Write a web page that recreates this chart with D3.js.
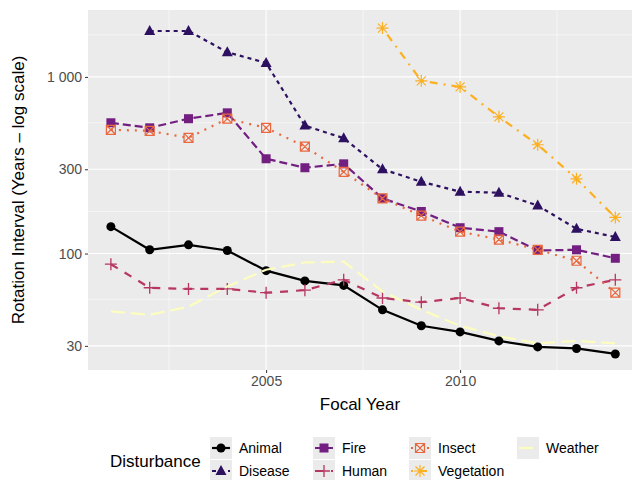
<!DOCTYPE html>
<html><head><meta charset="utf-8">
<script src="https://cdn.jsdelivr.net/npm/d3@7"></script>
<style>body{margin:0;background:#fff;font-family:"Liberation Sans",Arial,sans-serif}</style>
</head><body><svg id="c" width="639" height="480"></svg>
<script>
var years = d3.range(2001, 2015);
var names = ["Animal","Disease","Fire","Human","Insect","Vegetation","Weather"];
var animal = [142,105,112,104,80,70,66,48,39,36,32,29.6,29,27];
var disease = [null,1820,1820,1380,1200,530,450,300,255,224,221,187,138,124];
var fire = [550,515,580,626,344,306,322,205,173,140,133,104,105,94];
var human = [87,64,63,63,60,62,71,56,53,56,49,48,64,71];
var insect = [502,495,452,580,515,403,290,205,164,133,120,105,91,60];
var vegetation = [null,null,null,null,null,null,null,1890,950,878,594,413,265,160];
var weather = [47,45,50,65,81,89,90,61,48,39,34,31,32,31];
var series = [animal,disease,fire,human,insect,vegetation,weather];
var colors = ["#000000","#2d1160","#721f81","#b73760","#e9683f","#fbb022","#fcfdbf"];
var dashes = ["none","4,4","8,4","8,8","2,6","2,6,8,6","14,6"];
var shapes = ["circle","triangle","square","plus","sqcross","asterisk",null];

var svg = d3.select("#c");
var m = {l:88, r:632, t:10, b:370};
var x = d3.scaleLinear().domain([2000.41, 2014.43]).range([m.l, m.r]);
var y = d3.scaleLog().domain([21.9, 2393]).range([m.b, m.t]);

svg.append("rect").attr("x",m.l).attr("y",m.t).attr("width",m.r-m.l).attr("height",m.b-m.t).attr("fill","#ebebeb");
var g = svg.append("g");
[2002.5,2007.5,2012.5].forEach(v=>g.append("line").attr("x1",x(v)).attr("x2",x(v)).attr("y1",m.t).attr("y2",m.b).attr("stroke","#fff").attr("stroke-width",0.5));
[55,173,550,1730].forEach(v=>g.append("line").attr("y1",y(v)).attr("y2",y(v)).attr("x1",m.l).attr("x2",m.r).attr("stroke","#fff").attr("stroke-width",0.5));
[2005,2010].forEach(v=>g.append("line").attr("x1",x(v)).attr("x2",x(v)).attr("y1",m.t).attr("y2",m.b).attr("stroke","#fff").attr("stroke-width",1.1));
var yt = [30,100,300,1000];
yt.forEach(v=>g.append("line").attr("y1",y(v)).attr("y2",y(v)).attr("x1",m.l).attr("x2",m.r).attr("stroke","#fff").attr("stroke-width",1.1));

var xa = svg.append("g").attr("transform","translate(0,"+m.b+")")
  .call(d3.axisBottom(x).tickValues([2005,2010]).tickFormat(d3.format("d")).tickSizeOuter(0).tickSize(3));
var ya = svg.append("g").attr("transform","translate("+m.l+",0)")
  .call(d3.axisLeft(y).tickValues(yt).tickFormat(d=>d==1000?"1 000":d).tickSizeOuter(0).tickSize(3));
[xa,ya].forEach(a=>{a.select(".domain").remove();a.selectAll("line").attr("stroke","#333");
  a.selectAll("text").attr("fill","#4d4d4d").style("font-size","14px").style("font-family","Liberation Sans, Arial");});
ya.selectAll("text").attr("x",-6);

svg.append("text").attr("x",(m.l+m.r)/2).attr("y",410).attr("text-anchor","middle").style("font-size","17px").text("Focal Year");
svg.append("text").attr("transform","translate(24,"+((m.t+m.b)/2)+") rotate(-90)").attr("text-anchor","middle").style("font-size","17px").text("Rotation Interval (Years \u2013 log scale)");

function shape(sel, s, c){
  if(s=="circle") sel.append("circle").attr("r",4.5).attr("fill",c);
  else if(s=="triangle") sel.append("path").attr("d","M0,-6L5.5,4L-5.5,4Z").attr("fill",c);
  else if(s=="square") sel.append("rect").attr("x",-4.5).attr("y",-4.5).attr("width",9).attr("height",9).attr("fill",c);
  else if(s=="plus") sel.append("path").attr("d","M-6,0H6M0,-6V6").attr("stroke",c).attr("stroke-width",1.3);
  else if(s=="sqcross") sel.append("path").attr("d","M-4.5,-4.5H4.5V4.5H-4.5ZM-4.5,-4.5L4.5,4.5M4.5,-4.5L-4.5,4.5").attr("stroke",c).attr("fill","none").attr("stroke-width",1.2);
  else if(s=="asterisk") sel.append("path").attr("d","M-6,0H6M0,-6V6M-4.5,-4.5L4.5,4.5M4.5,-4.5L-4.5,4.5").attr("stroke",c).attr("stroke-width",1.2);
}
var line = d3.line().defined(d=>d[1]!=null).x(d=>x(d[0])).y(d=>y(d[1]));
series.forEach(function(s,i){
  var pts = years.map((yr,j)=>[yr,s[j]]);
  svg.append("path").attr("d",line(pts)).attr("fill","none").attr("stroke",colors[i])
    .attr("stroke-width",2.2).attr("stroke-dasharray",dashes[i]);
  pts.filter(p=>p[1]!=null).forEach(p=>{
    shape(svg.append("g").attr("transform","translate("+x(p[0])+","+y(p[1])+")"), shapes[i], colors[i]);
  });
});

// legend
svg.append("text").attr("x",110).attr("y",467).style("font-size","17px").text("Disturbance");
var lx = [221,324,420,528], ly = [448,471];
names.forEach(function(n,i){
  var cx = lx[Math.floor(i/2)], cy = ly[i%2];
  svg.append("rect").attr("x",cx-11).attr("y",cy-11).attr("width",22).attr("height",22).attr("fill","#ebebeb");
  svg.append("line").attr("x1",cx-9).attr("x2",cx+9).attr("y1",cy).attr("y2",cy).attr("stroke",colors[i]).attr("stroke-width",2.2).attr("stroke-dasharray",dashes[i]);
  shape(svg.append("g").attr("transform","translate("+cx+","+cy+")"), shapes[i], colors[i]);
  svg.append("text").attr("x",cx+18).attr("y",cy+5).style("font-size","14px").text(n);
});
</script></body></html>
